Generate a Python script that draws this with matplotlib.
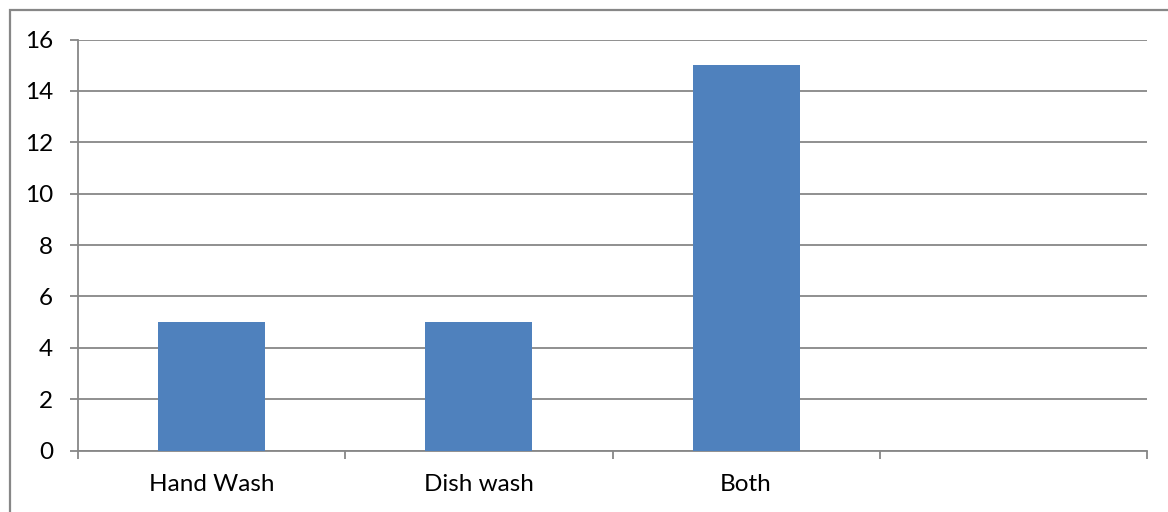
import matplotlib.pyplot as plt
from matplotlib.patches import Rectangle

categories = ["Hand Wash", "Dish wash", "Both", ""]
counts = [5, 5, 15, None]
yticks = [0, 2, 4, 6, 8, 10, 12, 14, 16]

plt.rcParams['font.family'] = ['Lato', 'DejaVu Sans']

fig = plt.figure(figsize=(11.68, 5.12), dpi=100)
ax = fig.add_axes([78 / 1168, 1 - 450.5 / 512, 1069 / 1168, 411 / 512])

# outer chart frame (runs off the right and bottom edges)
fig.patches.append(Rectangle((9.5 / 1168, -0.05), 1.2, 1 - 10 / 512 + 0.05,
                             transform=fig.transFigure, fill=False,
                             edgecolor="#878787", linewidth=1.6))

x = [i for i, v in enumerate(counts) if v is not None]
vals = [v for v in counts if v is not None]
ax.bar(x, vals, width=0.4, color="#4F81BD", zorder=3)

ax.set_xlim(-0.5, len(categories) - 0.5)
ax.set_ylim(0, 16)
ax.set_yticks(yticks)
ax.yaxis.grid(True, color="#878787", linewidth=1.3)
ax.set_axisbelow(True)

# boundaries between categories get the ticks, labels sit in the middle
ax.set_xticks([i - 0.5 for i in range(len(categories) + 1)])
ax.set_xticklabels([])
ax.set_xticks(range(len(categories)), minor=True)
ax.set_xticklabels(categories, minor=True)
ax.tick_params(axis="x", which="minor", length=0, pad=17, labelsize=17.5)
ax.tick_params(axis="x", which="major", length=6, width=1.3, color="#878787")
ax.tick_params(axis="y", length=6, width=1.3, color="#878787", pad=12, labelsize=17.5)

for side in ["top", "right"]:
    ax.spines[side].set_visible(False)
for side in ["left", "bottom"]:
    ax.spines[side].set_color("#878787")
    ax.spines[side].set_linewidth(1.3)

fig.savefig("out.png", dpi=100)
